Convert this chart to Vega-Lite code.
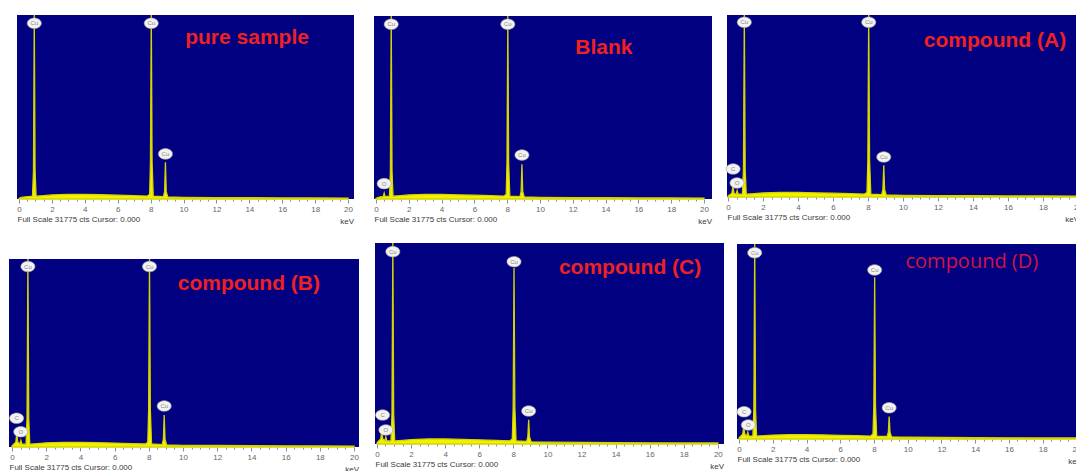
{
  "$schema": "https://vega.github.io/schema/vega-lite/v6.json",
  "background": "white",
  "padding": {"left": 8, "top": 12, "right": 0, "bottom": 0},
  "columns": 3,
  "spacing": {"row": 14, "column": 0},
  "config": {
    "view": {"stroke": null, "fill": null},
    "axisX": {"grid": false, "domain": false, "tickColor": "#7f8fb8", "labelFont": "Liberation Sans", "labelFontSize": 8, "labelColor": "#666666", "labelPadding": 2, "labelOverlap": false, "labelFlush": false, "titleFont": "Liberation Sans", "titleFontSize": 8, "titleFontWeight": "normal", "titleColor": "#3a3a3a", "titleAnchor": "start", "titlePadding": 2}
  },
  "datasets": {
    "spectra": [
      {"panel":"pure","keV":0,"counts":0.3},{"panel":"pure","keV":0.1,"counts":0.8},{"panel":"pure","keV":0.22,"counts":1},{"panel":"pure","keV":0.28,"counts":1},{"panel":"pure","keV":0.34,"counts":1.1},{"panel":"pure","keV":0.46,"counts":1.2},{"panel":"pure","keV":0.52,"counts":1.3},{"panel":"pure","keV":0.58,"counts":1.3},{"panel":"pure","keV":0.82,"counts":1.5},{"panel":"pure","keV":0.88,"counts":15},{"panel":"pure","keV":0.93,"counts":100},{"panel":"pure","keV":0.98,"counts":15},{"panel":"pure","keV":1.04,"counts":1.5},{"panel":"pure","keV":1.5,"counts":1.8},{"panel":"pure","keV":2,"counts":2.2},{"panel":"pure","keV":3,"counts":2.5},{"panel":"pure","keV":4,"counts":2.5},{"panel":"pure","keV":5,"counts":2.3},{"panel":"pure","keV":6,"counts":2.1},{"panel":"pure","keV":7,"counts":1.8},{"panel":"pure","keV":7.8,"counts":1.6},{"panel":"pure","keV":7.94,"counts":2.5},{"panel":"pure","keV":7.99,"counts":20},{"panel":"pure","keV":8.04,"counts":100},{"panel":"pure","keV":8.09,"counts":20},{"panel":"pure","keV":8.16,"counts":1.6},{"panel":"pure","keV":8.78,"counts":1.3},{"panel":"pure","keV":8.85,"counts":4},{"panel":"pure","keV":8.9,"counts":20},{"panel":"pure","keV":8.95,"counts":4},{"panel":"pure","keV":9.04,"counts":1.1},{"panel":"pure","keV":10,"counts":0.9},{"panel":"pure","keV":12,"counts":0.8},{"panel":"pure","keV":14,"counts":0.7},{"panel":"pure","keV":16,"counts":0.6},{"panel":"pure","keV":18,"counts":0.55},{"panel":"pure","keV":20,"counts":0.5},
      {"panel":"blank","keV":0,"counts":0.3},{"panel":"blank","keV":0.1,"counts":0.8},{"panel":"blank","keV":0.22,"counts":1},{"panel":"blank","keV":0.28,"counts":1.3},{"panel":"blank","keV":0.34,"counts":1.2},{"panel":"blank","keV":0.44,"counts":1.3},{"panel":"blank","keV":0.5,"counts":3.2},{"panel":"blank","keV":0.56,"counts":1.3},{"panel":"blank","keV":0.82,"counts":1.5},{"panel":"blank","keV":0.88,"counts":15},{"panel":"blank","keV":0.93,"counts":100},{"panel":"blank","keV":0.98,"counts":15},{"panel":"blank","keV":1.04,"counts":1.5},{"panel":"blank","keV":1.5,"counts":1.8},{"panel":"blank","keV":2,"counts":2.2},{"panel":"blank","keV":3,"counts":2.5},{"panel":"blank","keV":4,"counts":2.5},{"panel":"blank","keV":5,"counts":2.3},{"panel":"blank","keV":6,"counts":2.1},{"panel":"blank","keV":7,"counts":1.8},{"panel":"blank","keV":7.8,"counts":1.6},{"panel":"blank","keV":7.94,"counts":2.5},{"panel":"blank","keV":7.99,"counts":20},{"panel":"blank","keV":8.04,"counts":100},{"panel":"blank","keV":8.09,"counts":20},{"panel":"blank","keV":8.16,"counts":1.6},{"panel":"blank","keV":8.78,"counts":1.3},{"panel":"blank","keV":8.85,"counts":4},{"panel":"blank","keV":8.9,"counts":19},{"panel":"blank","keV":8.95,"counts":4},{"panel":"blank","keV":9.04,"counts":1.1},{"panel":"blank","keV":10,"counts":0.9},{"panel":"blank","keV":12,"counts":0.8},{"panel":"blank","keV":14,"counts":0.7},{"panel":"blank","keV":16,"counts":0.6},{"panel":"blank","keV":18,"counts":0.55},{"panel":"blank","keV":20,"counts":0.5},
      {"panel":"A","keV":0,"counts":0.5},{"panel":"A","keV":0.1,"counts":1.2},{"panel":"A","keV":0.22,"counts":2},{"panel":"A","keV":0.28,"counts":6},{"panel":"A","keV":0.34,"counts":2},{"panel":"A","keV":0.46,"counts":1.5},{"panel":"A","keV":0.52,"counts":3.5},{"panel":"A","keV":0.58,"counts":1.5},{"panel":"A","keV":0.82,"counts":1.5},{"panel":"A","keV":0.88,"counts":15},{"panel":"A","keV":0.93,"counts":100},{"panel":"A","keV":0.98,"counts":15},{"panel":"A","keV":1.04,"counts":1.5},{"panel":"A","keV":1.5,"counts":1.8},{"panel":"A","keV":2,"counts":2.2},{"panel":"A","keV":3,"counts":2.5},{"panel":"A","keV":4,"counts":2.5},{"panel":"A","keV":5,"counts":2.3},{"panel":"A","keV":6,"counts":2.1},{"panel":"A","keV":7,"counts":1.8},{"panel":"A","keV":7.8,"counts":1.6},{"panel":"A","keV":7.94,"counts":2.5},{"panel":"A","keV":7.99,"counts":20},{"panel":"A","keV":8.04,"counts":100},{"panel":"A","keV":8.09,"counts":20},{"panel":"A","keV":8.16,"counts":1.6},{"panel":"A","keV":8.78,"counts":1.3},{"panel":"A","keV":8.85,"counts":4},{"panel":"A","keV":8.9,"counts":17.5},{"panel":"A","keV":8.95,"counts":4},{"panel":"A","keV":9.04,"counts":1.1},{"panel":"A","keV":10,"counts":0.9},{"panel":"A","keV":12,"counts":0.8},{"panel":"A","keV":14,"counts":0.7},{"panel":"A","keV":16,"counts":0.6},{"panel":"A","keV":18,"counts":0.55},{"panel":"A","keV":20,"counts":0.5},
      {"panel":"B","keV":0,"counts":0.5},{"panel":"B","keV":0.1,"counts":1.5},{"panel":"B","keV":0.22,"counts":2.5},{"panel":"B","keV":0.28,"counts":7},{"panel":"B","keV":0.34,"counts":2.5},{"panel":"B","keV":0.46,"counts":1.6},{"panel":"B","keV":0.52,"counts":3.5},{"panel":"B","keV":0.58,"counts":1.5},{"panel":"B","keV":0.82,"counts":1.5},{"panel":"B","keV":0.88,"counts":15},{"panel":"B","keV":0.93,"counts":100},{"panel":"B","keV":0.98,"counts":15},{"panel":"B","keV":1.04,"counts":1.5},{"panel":"B","keV":1.5,"counts":1.8},{"panel":"B","keV":2,"counts":2.2},{"panel":"B","keV":3,"counts":2.5},{"panel":"B","keV":4,"counts":2.5},{"panel":"B","keV":5,"counts":2.3},{"panel":"B","keV":6,"counts":2.1},{"panel":"B","keV":7,"counts":1.8},{"panel":"B","keV":7.8,"counts":1.6},{"panel":"B","keV":7.94,"counts":2.5},{"panel":"B","keV":7.99,"counts":20},{"panel":"B","keV":8.04,"counts":100},{"panel":"B","keV":8.09,"counts":20},{"panel":"B","keV":8.16,"counts":1.6},{"panel":"B","keV":8.78,"counts":1.3},{"panel":"B","keV":8.85,"counts":4},{"panel":"B","keV":8.9,"counts":17},{"panel":"B","keV":8.95,"counts":4},{"panel":"B","keV":9.04,"counts":1.1},{"panel":"B","keV":10,"counts":0.9},{"panel":"B","keV":12,"counts":0.8},{"panel":"B","keV":14,"counts":0.7},{"panel":"B","keV":16,"counts":0.6},{"panel":"B","keV":18,"counts":0.55},{"panel":"B","keV":20,"counts":0.5},
      {"panel":"C","keV":0,"counts":0.5},{"panel":"C","keV":0.1,"counts":1.5},{"panel":"C","keV":0.22,"counts":2.5},{"panel":"C","keV":0.28,"counts":6.5},{"panel":"C","keV":0.34,"counts":2.5},{"panel":"C","keV":0.46,"counts":1.6},{"panel":"C","keV":0.52,"counts":3.5},{"panel":"C","keV":0.58,"counts":1.5},{"panel":"C","keV":0.82,"counts":1.5},{"panel":"C","keV":0.88,"counts":15},{"panel":"C","keV":0.93,"counts":100},{"panel":"C","keV":0.98,"counts":15},{"panel":"C","keV":1.04,"counts":1.5},{"panel":"C","keV":1.5,"counts":1.8},{"panel":"C","keV":2,"counts":2.2},{"panel":"C","keV":3,"counts":2.5},{"panel":"C","keV":4,"counts":2.5},{"panel":"C","keV":5,"counts":2.3},{"panel":"C","keV":6,"counts":2.1},{"panel":"C","keV":7,"counts":1.8},{"panel":"C","keV":7.8,"counts":1.6},{"panel":"C","keV":7.94,"counts":2.5},{"panel":"C","keV":7.99,"counts":18},{"panel":"C","keV":8.04,"counts":87.5},{"panel":"C","keV":8.09,"counts":18},{"panel":"C","keV":8.16,"counts":1.6},{"panel":"C","keV":8.78,"counts":1.3},{"panel":"C","keV":8.85,"counts":3.5},{"panel":"C","keV":8.9,"counts":12},{"panel":"C","keV":8.95,"counts":3.5},{"panel":"C","keV":9.04,"counts":1.1},{"panel":"C","keV":10,"counts":0.9},{"panel":"C","keV":12,"counts":0.8},{"panel":"C","keV":14,"counts":0.7},{"panel":"C","keV":16,"counts":0.6},{"panel":"C","keV":18,"counts":0.55},{"panel":"C","keV":20,"counts":0.5},
      {"panel":"D","keV":0,"counts":0.5},{"panel":"D","keV":0.1,"counts":1.5},{"panel":"D","keV":0.22,"counts":2.5},{"panel":"D","keV":0.28,"counts":6.5},{"panel":"D","keV":0.34,"counts":2.5},{"panel":"D","keV":0.46,"counts":1.6},{"panel":"D","keV":0.52,"counts":3.5},{"panel":"D","keV":0.58,"counts":1.5},{"panel":"D","keV":0.82,"counts":1.5},{"panel":"D","keV":0.88,"counts":15},{"panel":"D","keV":0.93,"counts":100},{"panel":"D","keV":0.98,"counts":15},{"panel":"D","keV":1.04,"counts":1.5},{"panel":"D","keV":1.5,"counts":1.7},{"panel":"D","keV":2,"counts":2},{"panel":"D","keV":3,"counts":2.2},{"panel":"D","keV":4,"counts":2.2},{"panel":"D","keV":5,"counts":2.1},{"panel":"D","keV":6,"counts":1.9},{"panel":"D","keV":7,"counts":1.7},{"panel":"D","keV":7.8,"counts":1.5},{"panel":"D","keV":7.94,"counts":2.5},{"panel":"D","keV":7.99,"counts":17},{"panel":"D","keV":8.04,"counts":83},{"panel":"D","keV":8.09,"counts":17},{"panel":"D","keV":8.16,"counts":1.5},{"panel":"D","keV":8.78,"counts":1.3},{"panel":"D","keV":8.85,"counts":3.5},{"panel":"D","keV":8.9,"counts":11.5},{"panel":"D","keV":8.95,"counts":3.5},{"panel":"D","keV":9.04,"counts":1.1},{"panel":"D","keV":10,"counts":0.9},{"panel":"D","keV":12,"counts":0.8},{"panel":"D","keV":14,"counts":0.7},{"panel":"D","keV":16,"counts":0.6},{"panel":"D","keV":18,"counts":0.55},{"panel":"D","keV":20,"counts":0.5}
    ],
    "peaks": [
      {"panel":"pure","element":"Cu","keV":0.93,"counts":95.5},{"panel":"pure","element":"Cu","keV":8.04,"counts":95.5},{"panel":"pure","element":"Cu","keV":8.9,"counts":24.5},
      {"panel":"blank","element":"Cu","keV":0.93,"counts":95.5},{"panel":"blank","element":"Cu","keV":8.04,"counts":95.5},{"panel":"blank","element":"Cu","keV":8.9,"counts":24},{"panel":"blank","element":"O","keV":0.5,"counts":8.4},
      {"panel":"A","element":"Cu","keV":0.93,"counts":96},{"panel":"A","element":"Cu","keV":8.04,"counts":96},{"panel":"A","element":"Cu","keV":8.9,"counts":22},{"panel":"A","element":"C","keV":0.29,"counts":15.4},{"panel":"A","element":"O","keV":0.51,"counts":7.7},
      {"panel":"B","element":"Cu","keV":0.93,"counts":96},{"panel":"B","element":"Cu","keV":8.04,"counts":96},{"panel":"B","element":"Cu","keV":8.9,"counts":21.8},{"panel":"B","element":"C","keV":0.27,"counts":15.3},{"panel":"B","element":"O","keV":0.51,"counts":8.1},
      {"panel":"C","element":"Cu","keV":0.93,"counts":95.7},{"panel":"C","element":"Cu","keV":8.04,"counts":90.7},{"panel":"C","element":"Cu","keV":8.9,"counts":16.4},{"panel":"C","element":"C","keV":0.33,"counts":14.4},{"panel":"C","element":"O","keV":0.52,"counts":7},
      {"panel":"D","element":"Cu","keV":0.93,"counts":95.5},{"panel":"D","element":"Cu","keV":8.04,"counts":86.7},{"panel":"D","element":"Cu","keV":8.9,"counts":16},{"panel":"D","element":"C","keV":0.3,"counts":14},{"panel":"D","element":"O","keV":0.55,"counts":7.2}
    ]
  },
  "concat": [
    {
      "width": 364, "height": 184,
      "resolve": {"axis": {"x": "independent"}},
      "layer": [
        {"data": {"values": [{}]}, "mark": {"type": "rect", "color": "#000080"},
         "encoding": {
           "x": {"datum": -0.12, "type": "quantitative", "scale": {"domain": [-0.12, 20.36], "range": [8, 345], "nice": false, "zero": false},
                 "axis": {"orient": "bottom", "values": [0,2,4,6,8,10,12,14,16,18,20], "tickSize": 4, "title": "Full Scale 31775 cts Cursor: 0.000"}},
           "x2": {"datum": 20.36},
           "y": {"datum": 0, "type": "quantitative", "scale": {"domain": [0, 100], "range": [184, 0], "nice": false, "zero": false}, "axis": null},
           "y2": {"datum": 100}}},
        {"data": {"name": "spectra"}, "transform": [{"filter": "datum.panel === 'pure'"}],
         "mark": {"type": "area", "color": "#f2f200", "stroke": "#d4d400", "strokeWidth": 1.3, "opacity": 1},
         "encoding": {"x": {"field": "keV", "type": "quantitative", "axis": {"orient": "bottom", "values": [0.5,1,1.5,2.5,3,3.5,4.5,5,5.5,6.5,7,7.5,8.5,9,9.5,10.5,11,11.5,12.5,13,13.5,14.5,15,15.5,16.5,17,17.5,18.5,19,19.5], "labels": false, "tickSize": 2, "title": null}}, "y": {"field": "counts", "type": "quantitative"}}},
        {"data": {"name": "peaks"}, "transform": [{"filter": "datum.panel === 'pure'"}],
         "mark": {"type": "point", "shape": "M-1,0A1,0.75,0,1,0,1,0A1,0.75,0,1,0,-1,0Z", "size": 200, "filled": true, "color": "#f2f2f2", "stroke": "#9a9a9a", "strokeWidth": 0.6, "opacity": 1},
         "encoding": {"x": {"field": "keV", "type": "quantitative", "axis": null}, "y": {"field": "counts", "type": "quantitative"}}},
        {"data": {"name": "peaks"}, "transform": [{"filter": "datum.panel === 'pure'"}],
         "mark": {"type": "text", "font": "Liberation Sans", "fontSize": 6, "color": "#888888"},
         "encoding": {"x": {"field": "keV", "type": "quantitative", "axis": null}, "y": {"field": "counts", "type": "quantitative"}, "text": {"field": "element"}}},
        {"data": {"values": [{}]}, "mark": {"type": "text", "font": "Liberation Sans", "fontWeight": "bold", "fontSize": 21, "color": "#f02020", "baseline": "alphabetic", "align": "center"},
         "encoding": {"x": {"datum": 13.86, "axis": null}, "y": {"datum": 84.5}, "text": {"value": "pure sample"}}},
        {"data": {"values": [{}]}, "mark": {"type": "text", "font": "Liberation Sans", "fontSize": 8, "color": "#3a3a3a", "align": "right", "baseline": "middle", "dy": 23},
         "encoding": {"x": {"datum": 20.36, "axis": null}, "y": {"datum": 0}, "text": {"value": "keV"}}}
      ]
    },
    {
      "width": 350, "height": 184,
      "resolve": {"axis": {"x": "independent"}},
      "layer": [
        {"data": {"values": [{}]}, "mark": {"type": "rect", "color": "#000080"},
         "encoding": {
           "x": {"datum": -0.12, "type": "quantitative", "scale": {"domain": [-0.12, 20.49], "range": [0, 338], "nice": false, "zero": false},
                 "axis": {"orient": "bottom", "values": [0,2,4,6,8,10,12,14,16,18,20], "tickSize": 4, "title": "Full Scale 31775 cts Cursor: 0.000"}},
           "x2": {"datum": 20.49},
           "y": {"datum": 0, "type": "quantitative", "scale": {"domain": [0, 100], "range": [184, 1], "nice": false, "zero": false}, "axis": null},
           "y2": {"datum": 100}}},
        {"data": {"name": "spectra"}, "transform": [{"filter": "datum.panel === 'blank'"}],
         "mark": {"type": "area", "color": "#f2f200", "stroke": "#d4d400", "strokeWidth": 1.3, "opacity": 1},
         "encoding": {"x": {"field": "keV", "type": "quantitative", "axis": {"orient": "bottom", "values": [0.5,1,1.5,2.5,3,3.5,4.5,5,5.5,6.5,7,7.5,8.5,9,9.5,10.5,11,11.5,12.5,13,13.5,14.5,15,15.5,16.5,17,17.5,18.5,19,19.5], "labels": false, "tickSize": 2, "title": null}}, "y": {"field": "counts", "type": "quantitative"}}},
        {"data": {"name": "peaks"}, "transform": [{"filter": "datum.panel === 'blank'"}],
         "mark": {"type": "point", "shape": "M-1,0A1,0.75,0,1,0,1,0A1,0.75,0,1,0,-1,0Z", "size": 200, "filled": true, "color": "#f2f2f2", "stroke": "#9a9a9a", "strokeWidth": 0.6, "opacity": 1},
         "encoding": {"x": {"field": "keV", "type": "quantitative", "axis": null}, "y": {"field": "counts", "type": "quantitative"}}},
        {"data": {"name": "peaks"}, "transform": [{"filter": "datum.panel === 'blank'"}],
         "mark": {"type": "text", "font": "Liberation Sans", "fontSize": 6, "color": "#888888"},
         "encoding": {"x": {"field": "keV", "type": "quantitative", "axis": null}, "y": {"field": "counts", "type": "quantitative"}, "text": {"field": "element"}}},
        {"data": {"values": [{}]}, "mark": {"type": "text", "font": "Liberation Sans", "fontWeight": "bold", "fontSize": 21, "color": "#f02020", "baseline": "alphabetic", "align": "center"},
         "encoding": {"x": {"datum": 13.9, "axis": null}, "y": {"datum": 79.4}, "text": {"value": "Blank"}}},
        {"data": {"values": [{}]}, "mark": {"type": "text", "font": "Liberation Sans", "fontSize": 8, "color": "#3a3a3a", "align": "right", "baseline": "middle", "dy": 23},
         "encoding": {"x": {"datum": 20.49, "axis": null}, "y": {"datum": 0}, "text": {"value": "keV"}}}
      ]
    },
    {
      "width": 351, "height": 182,
      "resolve": {"axis": {"x": "independent"}},
      "layer": [
        {"data": {"values": [{}]}, "mark": {"type": "rect", "color": "#000080"},
         "encoding": {
           "x": {"datum": -0.06, "type": "quantitative", "scale": {"domain": [-0.06, 20.06], "range": [2, 354], "nice": false, "zero": false},
                 "axis": {"orient": "bottom", "values": [0,2,4,6,8,10,12,14,16,18,20], "tickSize": 4, "title": "Full Scale 31775 cts Cursor: 0.000"}},
           "x2": {"datum": 20.06},
           "y": {"datum": 0, "type": "quantitative", "scale": {"domain": [0, 100], "range": [182, 0], "nice": false, "zero": false}, "axis": null},
           "y2": {"datum": 100}}},
        {"data": {"name": "spectra"}, "transform": [{"filter": "datum.panel === 'A'"}],
         "mark": {"type": "area", "color": "#f2f200", "stroke": "#d4d400", "strokeWidth": 1.3, "opacity": 1},
         "encoding": {"x": {"field": "keV", "type": "quantitative", "axis": {"orient": "bottom", "values": [0.5,1,1.5,2.5,3,3.5,4.5,5,5.5,6.5,7,7.5,8.5,9,9.5,10.5,11,11.5,12.5,13,13.5,14.5,15,15.5,16.5,17,17.5,18.5,19,19.5], "labels": false, "tickSize": 2, "title": null}}, "y": {"field": "counts", "type": "quantitative"}}},
        {"data": {"name": "peaks"}, "transform": [{"filter": "datum.panel === 'A'"}],
         "mark": {"type": "point", "shape": "M-1,0A1,0.75,0,1,0,1,0A1,0.75,0,1,0,-1,0Z", "size": 200, "filled": true, "color": "#f2f2f2", "stroke": "#9a9a9a", "strokeWidth": 0.6, "opacity": 1},
         "encoding": {"x": {"field": "keV", "type": "quantitative", "axis": null}, "y": {"field": "counts", "type": "quantitative"}}},
        {"data": {"name": "peaks"}, "transform": [{"filter": "datum.panel === 'A'"}],
         "mark": {"type": "text", "font": "Liberation Sans", "fontSize": 6, "color": "#888888"},
         "encoding": {"x": {"field": "keV", "type": "quantitative", "axis": null}, "y": {"field": "counts", "type": "quantitative"}, "text": {"field": "element"}}},
        {"data": {"values": [{}]}, "mark": {"type": "text", "font": "Liberation Sans", "fontWeight": "bold", "fontSize": 21, "color": "#f02020", "baseline": "alphabetic", "align": "center"},
         "encoding": {"x": {"datum": 15.26, "axis": null}, "y": {"datum": 82.4}, "text": {"value": "compound (A)"}}},
        {"data": {"values": [{}]}, "mark": {"type": "text", "font": "Liberation Sans", "fontSize": 8, "color": "#3a3a3a", "align": "right", "baseline": "middle", "dy": 23},
         "encoding": {"x": {"datum": 20.06, "axis": null}, "y": {"datum": 0}, "text": {"value": "keV"}}}
      ]
    },
    {
      "width": 364, "height": 204,
      "resolve": {"axis": {"x": "independent"}},
      "layer": [
        {"data": {"values": [{}]}, "mark": {"type": "rect", "color": "#000080"},
         "encoding": {
           "x": {"datum": -0.175, "type": "quantitative", "scale": {"domain": [-0.175, 20.29], "range": [0, 350], "nice": false, "zero": false},
                 "axis": {"orient": "bottom", "values": [0,2,4,6,8,10,12,14,16,18,20], "tickSize": 4, "title": "Full Scale 31775 cts Cursor: 0.000"}},
           "x2": {"datum": 20.29},
           "y": {"datum": 0, "type": "quantitative", "scale": {"domain": [0, 100], "range": [204, 16], "nice": false, "zero": false}, "axis": null},
           "y2": {"datum": 100}}},
        {"data": {"name": "spectra"}, "transform": [{"filter": "datum.panel === 'B'"}],
         "mark": {"type": "area", "color": "#f2f200", "stroke": "#d4d400", "strokeWidth": 1.3, "opacity": 1},
         "encoding": {"x": {"field": "keV", "type": "quantitative", "axis": {"orient": "bottom", "values": [0.5,1,1.5,2.5,3,3.5,4.5,5,5.5,6.5,7,7.5,8.5,9,9.5,10.5,11,11.5,12.5,13,13.5,14.5,15,15.5,16.5,17,17.5,18.5,19,19.5], "labels": false, "tickSize": 2, "title": null}}, "y": {"field": "counts", "type": "quantitative"}}},
        {"data": {"name": "peaks"}, "transform": [{"filter": "datum.panel === 'B'"}],
         "mark": {"type": "point", "shape": "M-1,0A1,0.75,0,1,0,1,0A1,0.75,0,1,0,-1,0Z", "size": 200, "filled": true, "color": "#f2f2f2", "stroke": "#9a9a9a", "strokeWidth": 0.6, "opacity": 1},
         "encoding": {"x": {"field": "keV", "type": "quantitative", "axis": null}, "y": {"field": "counts", "type": "quantitative"}}},
        {"data": {"name": "peaks"}, "transform": [{"filter": "datum.panel === 'B'"}],
         "mark": {"type": "text", "font": "Liberation Sans", "fontSize": 6, "color": "#888888"},
         "encoding": {"x": {"field": "keV", "type": "quantitative", "axis": null}, "y": {"field": "counts", "type": "quantitative"}, "text": {"field": "element"}}},
        {"data": {"values": [{}]}, "mark": {"type": "text", "font": "Liberation Sans", "fontWeight": "bold", "fontSize": 21, "color": "#f02020", "baseline": "alphabetic", "align": "center"},
         "encoding": {"x": {"datum": 13.85, "axis": null}, "y": {"datum": 83.5}, "text": {"value": "compound (B)"}}},
        {"data": {"values": [{}]}, "mark": {"type": "text", "font": "Liberation Sans", "fontSize": 8, "color": "#3a3a3a", "align": "right", "baseline": "middle", "dy": 23},
         "encoding": {"x": {"datum": 20.29, "axis": null}, "y": {"datum": 0}, "text": {"value": "keV"}}}
      ]
    },
    {
      "width": 350, "height": 201,
      "resolve": {"axis": {"x": "independent"}},
      "layer": [
        {"data": {"values": [{}]}, "mark": {"type": "rect", "color": "#000080"},
         "encoding": {
           "x": {"datum": -0.116, "type": "quantitative", "scale": {"domain": [-0.116, 20.36], "range": [1, 350], "nice": false, "zero": false},
                 "axis": {"orient": "bottom", "values": [0,2,4,6,8,10,12,14,16,18,20], "tickSize": 4, "title": "Full Scale 31775 cts Cursor: 0.000"}},
           "x2": {"datum": 20.36},
           "y": {"datum": 0, "type": "quantitative", "scale": {"domain": [0, 100], "range": [201, 0], "nice": false, "zero": false}, "axis": null},
           "y2": {"datum": 100}}},
        {"data": {"name": "spectra"}, "transform": [{"filter": "datum.panel === 'C'"}],
         "mark": {"type": "area", "color": "#f2f200", "stroke": "#d4d400", "strokeWidth": 1.3, "opacity": 1},
         "encoding": {"x": {"field": "keV", "type": "quantitative", "axis": {"orient": "bottom", "values": [0.5,1,1.5,2.5,3,3.5,4.5,5,5.5,6.5,7,7.5,8.5,9,9.5,10.5,11,11.5,12.5,13,13.5,14.5,15,15.5,16.5,17,17.5,18.5,19,19.5], "labels": false, "tickSize": 2, "title": null}}, "y": {"field": "counts", "type": "quantitative"}}},
        {"data": {"name": "peaks"}, "transform": [{"filter": "datum.panel === 'C'"}],
         "mark": {"type": "point", "shape": "M-1,0A1,0.75,0,1,0,1,0A1,0.75,0,1,0,-1,0Z", "size": 200, "filled": true, "color": "#f2f2f2", "stroke": "#9a9a9a", "strokeWidth": 0.6, "opacity": 1},
         "encoding": {"x": {"field": "keV", "type": "quantitative", "axis": null}, "y": {"field": "counts", "type": "quantitative"}}},
        {"data": {"name": "peaks"}, "transform": [{"filter": "datum.panel === 'C'"}],
         "mark": {"type": "text", "font": "Liberation Sans", "fontSize": 6, "color": "#888888"},
         "encoding": {"x": {"field": "keV", "type": "quantitative", "axis": null}, "y": {"field": "counts", "type": "quantitative"}, "text": {"field": "element"}}},
        {"data": {"values": [{}]}, "mark": {"type": "text", "font": "Liberation Sans", "fontWeight": "bold", "fontSize": 21, "color": "#f02020", "baseline": "alphabetic", "align": "center"},
         "encoding": {"x": {"datum": 14.85, "axis": null}, "y": {"datum": 84.6}, "text": {"value": "compound (C)"}}},
        {"data": {"values": [{}]}, "mark": {"type": "text", "font": "Liberation Sans", "fontSize": 8, "color": "#3a3a3a", "align": "right", "baseline": "middle", "dy": 23},
         "encoding": {"x": {"datum": 20.36, "axis": null}, "y": {"datum": 0}, "text": {"value": "keV"}}}
      ]
    },
    {
      "width": 351, "height": 196,
      "resolve": {"axis": {"x": "independent"}},
      "layer": [
        {"data": {"values": [{}]}, "mark": {"type": "rect", "color": "#000080"},
         "encoding": {
           "x": {"datum": -0.12, "type": "quantitative", "scale": {"domain": [-0.12, 20.33], "range": [12, 357], "nice": false, "zero": false},
                 "axis": {"orient": "bottom", "values": [0,2,4,6,8,10,12,14,16,18,20], "tickSize": 4, "title": "Full Scale 31775 cts Cursor: 0.000"}},
           "x2": {"datum": 20.33},
           "y": {"datum": 0, "type": "quantitative", "scale": {"domain": [0, 100], "range": [196, 1], "nice": false, "zero": false}, "axis": null},
           "y2": {"datum": 100}}},
        {"data": {"name": "spectra"}, "transform": [{"filter": "datum.panel === 'D'"}],
         "mark": {"type": "area", "color": "#f2f200", "stroke": "#d4d400", "strokeWidth": 1.3, "opacity": 1},
         "encoding": {"x": {"field": "keV", "type": "quantitative", "axis": {"orient": "bottom", "values": [0.5,1,1.5,2.5,3,3.5,4.5,5,5.5,6.5,7,7.5,8.5,9,9.5,10.5,11,11.5,12.5,13,13.5,14.5,15,15.5,16.5,17,17.5,18.5,19,19.5], "labels": false, "tickSize": 2, "title": null}}, "y": {"field": "counts", "type": "quantitative"}}},
        {"data": {"name": "peaks"}, "transform": [{"filter": "datum.panel === 'D'"}],
         "mark": {"type": "point", "shape": "M-1,0A1,0.75,0,1,0,1,0A1,0.75,0,1,0,-1,0Z", "size": 200, "filled": true, "color": "#f2f2f2", "stroke": "#9a9a9a", "strokeWidth": 0.6, "opacity": 1},
         "encoding": {"x": {"field": "keV", "type": "quantitative", "axis": null}, "y": {"field": "counts", "type": "quantitative"}}},
        {"data": {"name": "peaks"}, "transform": [{"filter": "datum.panel === 'D'"}],
         "mark": {"type": "text", "font": "Liberation Sans", "fontSize": 6, "color": "#888888"},
         "encoding": {"x": {"field": "keV", "type": "quantitative", "axis": null}, "y": {"field": "counts", "type": "quantitative"}, "text": {"field": "element"}}},
        {"data": {"values": [{}]}, "mark": {"type": "text", "font": "Open Sans", "fontWeight": "normal", "fontSize": 20, "color": "#d21443", "baseline": "alphabetic", "align": "center"},
         "encoding": {"x": {"datum": 13.8, "axis": null}, "y": {"datum": 87.7}, "text": {"value": "compound (D)"}}},
        {"data": {"values": [{}]}, "mark": {"type": "text", "font": "Liberation Sans", "fontSize": 8, "color": "#3a3a3a", "align": "right", "baseline": "middle", "dy": 23},
         "encoding": {"x": {"datum": 20.33, "axis": null}, "y": {"datum": 0}, "text": {"value": "keV"}}}
      ]
    }
  ]
}
